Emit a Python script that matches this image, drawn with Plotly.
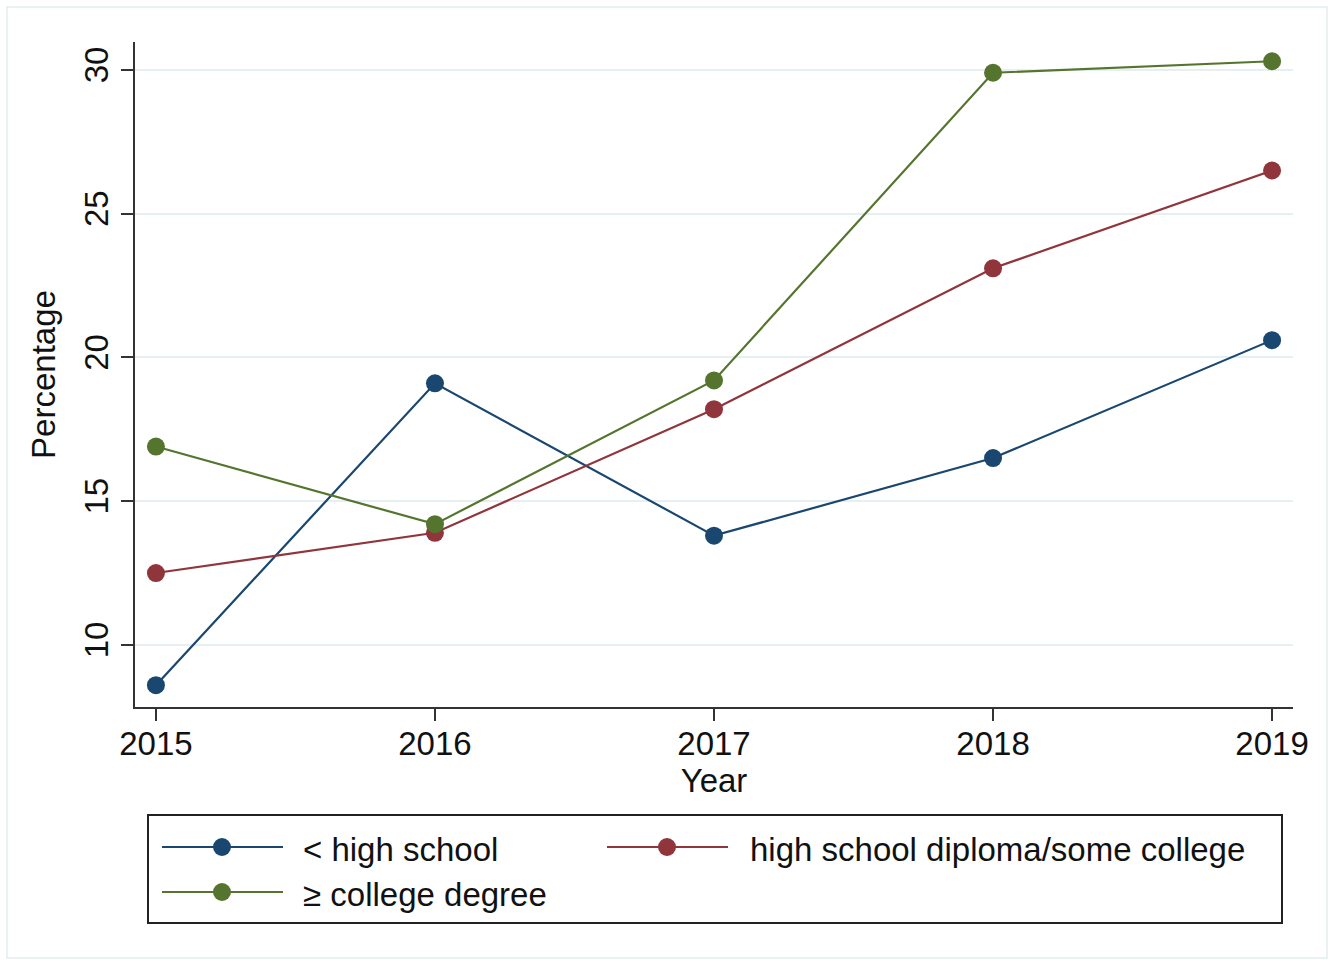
import plotly.graph_objects as go

# Survey years and share (%) by education level
years = [2015, 2016, 2017, 2018, 2019]
less_than_hs = [8.6, 19.1, 13.8, 16.5, 20.6]
hs_some_college = [12.5, 13.9, 18.2, 23.1, 26.5]
college_degree = [16.9, 14.2, 19.2, 29.9, 30.3]

series_names = ["< high school", "high school diploma/some college", "≥ college degree"]
series_colors = ["#1a476f", "#90353b", "#55752f"]
y_ticks = [10, 15, 20, 25, 30]

W, H = 1337, 964
M_L, M_R, M_T, M_B = 135, 44, 42, 257
FONT = "Liberation Sans, Arial, Helvetica, sans-serif"
TEXT = "#111111"
FS = 33

fig = go.Figure()
for name, vals, col in zip(series_names,
                           [less_than_hs, hs_some_college, college_degree],
                           series_colors):
    fig.add_trace(go.Scatter(
        x=years, y=vals, name=name, mode="lines+markers",
        line=dict(color=col, width=2.2),
        marker=dict(color=col, size=18),
        showlegend=False,
    ))

# pixel -> paper coordinate helpers for the hand-drawn legend and frame
pw = W - M_L - M_R
ph = H - M_T - M_B


def px(x):
    return (x - M_L) / pw


def py(y):
    return (H - M_B - y) / ph


shapes = []
annotations = []

# outer frame of the graph region
shapes.append(dict(type="rect", xref="paper", yref="paper",
                   x0=px(7), x1=px(1327), y0=py(958), y1=py(7),
                   line=dict(color="#e3edf0", width=1.5), layer="below"))

# legend box
shapes.append(dict(type="rect", xref="paper", yref="paper",
                   x0=px(148), x1=px(1282), y0=py(923), y1=py(815),
                   line=dict(color="#222222", width=2)))

legend_slots = [(162, 847), (607, 847), (162, 892)]
text_x = [301, 748, 301]
for (lx, ly), tx, name, col in zip(legend_slots, text_x, series_names, series_colors):
    shapes.append(dict(type="line", xref="paper", yref="paper",
                       x0=px(lx), x1=px(lx + 121), y0=py(ly), y1=py(ly),
                       line=dict(color=col, width=2.2)))
    cx = lx + 60
    shapes.append(dict(type="circle", xref="paper", yref="paper",
                       x0=px(cx - 9), x1=px(cx + 9), y0=py(ly + 9), y1=py(ly - 9),
                       fillcolor=col, line=dict(color=col, width=0)))
    annotations.append(dict(xref="paper", yref="paper", x=px(tx), y=py(ly + 2),
                            xanchor="left", yanchor="middle", showarrow=False,
                            text=name, font=dict(family=FONT, size=FS, color=TEXT)))

fig.update_layout(
    width=W, height=H,
    margin=dict(l=M_L, r=M_R, t=M_T, b=M_B, pad=0),
    paper_bgcolor="white", plot_bgcolor="white",
    font=dict(family=FONT, size=FS, color=TEXT),
    shapes=shapes, annotations=annotations,
    xaxis=dict(
        range=[2014.925, 2019.075], tickvals=years, ticktext=[str(y) for y in years],
        showgrid=False, zeroline=False,
        showline=True, linecolor="#333333", linewidth=2,
        ticks="outside", ticklen=12, tickwidth=1.5, tickcolor="#333333",
        tickfont=dict(size=FS), ticklabelstandoff=-6,
        title=dict(text="Year", font=dict(size=FS), standoff=0),
    ),
    yaxis=dict(
        range=[7.84, 30.97], tickvals=y_ticks, ticktext=[str(v) for v in y_ticks],
        tickangle=-90,
        showgrid=True, gridcolor="#e6eff2", gridwidth=1.5, zeroline=False,
        showline=True, linecolor="#333333", linewidth=2,
        ticks="outside", ticklen=12, tickwidth=1.5, tickcolor="#333333",
        tickfont=dict(size=FS),
        title=dict(text="Percentage", font=dict(size=FS), standoff=12),
    ),
)

fig.write_html("out.html")
